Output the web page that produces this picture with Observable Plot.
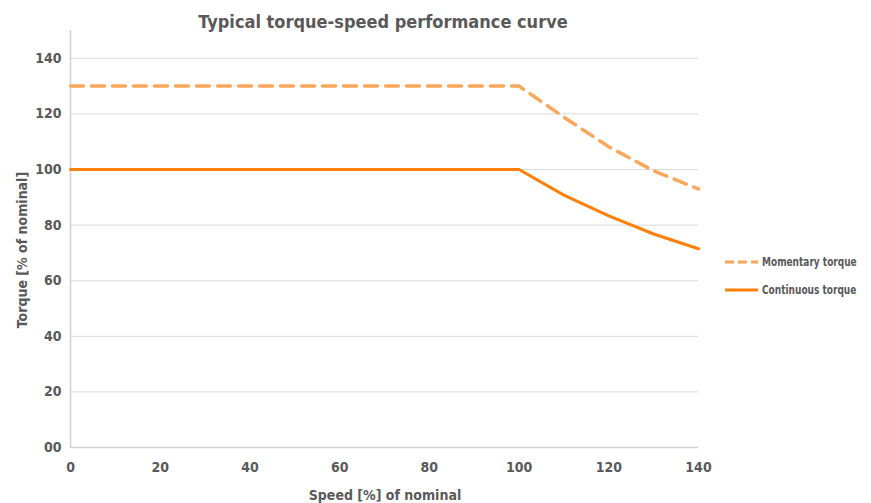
<!DOCTYPE html>
<html>
<head>
<meta charset="utf-8">
<script src="https://cdn.jsdelivr.net/npm/d3@7"></script>
<script src="https://cdn.jsdelivr.net/npm/@observablehq/plot@0.6"></script>
<style>
  html, body { margin: 0; padding: 0; background: #fff; }
  #wrap { position: relative; width: 871px; height: 503px; font-family: "DejaVu Sans Condensed", sans-serif; font-weight: bold; color: #595959; }
  #chart { position: absolute; left: 0; top: 0; }
  .abs { position: absolute; white-space: nowrap; }
  #title { left: 0; width: 766px; top: 12px; text-align: center; font-size: 18px; line-height: 20px; }
  #xlabel { left: 0; width: 770px; top: 487px; text-align: center; font-size: 14px; line-height: 16px; }
  #ylabel { left: 22px; top: 250px; font-size: 14px; line-height: 16px; transform: translate(-50%, -50%) rotate(-90deg); }
  .leg { font-size: 12.5px; line-height: 14px; }
  .leg svg { position: absolute; left: 0; top: 0; }
  .leg span { position: absolute; left: 37px; top: 0; display: inline-block; transform: scaleX(0.8); transform-origin: 0 50%; }
</style>
</head>
<body>
<div id="wrap">
  <div id="chart"></div>
  <div id="title" class="abs"></div>
  <div id="xlabel" class="abs"></div>
  <div id="ylabel" class="abs"></div>
  <div id="legend"></div>
</div>
<script>
const titleText = "Typical torque-speed performance curve";
const xLabel = "Speed [%] of nominal";
const yLabel = "Torque [% of nominal]";
const seriesNames = ["Momentary torque", "Continuous torque"];
const speed = [0, 10, 20, 30, 40, 50, 60, 70, 80, 90, 100, 110, 120, 130, 140];
const momentary = [130, 130, 130, 130, 130, 130, 130, 130, 130, 130, 130, 118.8, 108.2, 99.5, 93];
const continuous = [100, 100, 100, 100, 100, 100, 100, 100, 100, 100, 100, 90.8, 83.3, 76.8, 71.5];
const xTicks = [0, 20, 40, 60, 80, 100, 120, 140];
const yTicks = [0, 20, 40, 60, 80, 100, 120, 140];
const yTickLabels = ["00", "20", "40", "60", "80", "100", "120", "140"];
const colors = ["#FAA75B", "#FF8008"];
const dashes = ["13,8", null];

const momData = speed.map((s, i) => ({speed: s, torque: momentary[i]}));
const conData = speed.map((s, i) => ({speed: s, torque: continuous[i]}));

const plot = Plot.plot({
  width: 871,
  height: 503,
  marginLeft: 70,
  marginRight: 173,
  marginTop: 30,
  marginBottom: 56,
  style: {fontFamily: '"DejaVu Sans Condensed", sans-serif', fontSize: "14px", fontWeight: "bold", color: "#595959", background: "#fff"},
  x: {domain: [0, 140], label: null},
  y: {domain: [0, 150], label: null},
  marks: [
    Plot.ruleY(yTicks.filter(d => d > 0), {stroke: "#d9d9d9", strokeWidth: 1}),
    Plot.ruleY([0], {stroke: "#d0d0d0", strokeWidth: 1.5}),
    Plot.ruleX([0], {stroke: "#d0d0d0", strokeWidth: 1.5}),
    Plot.line(momData, {x: "speed", y: "torque", stroke: colors[0], strokeWidth: 3.5, strokeDasharray: dashes[0]}),
    Plot.line(conData, {x: "speed", y: "torque", stroke: colors[1], strokeWidth: 3}),
    Plot.axisX({ticks: xTicks, tickSize: 0, tickPadding: 15, label: null, tickFormat: d => String(d)}),
    Plot.axisY({ticks: yTicks, tickSize: 0, tickPadding: 9, label: null, tickFormat: d => yTickLabels[yTicks.indexOf(d)]})
  ]
});
document.getElementById("chart").appendChild(plot);
document.getElementById("title").textContent = titleText;
document.getElementById("xlabel").textContent = xLabel;
document.getElementById("ylabel").textContent = yLabel;

const legend = document.getElementById("legend");
const legTops = [255, 283];
seriesNames.forEach((name, i) => {
  const row = document.createElement("div");
  row.className = "abs leg";
  row.style.left = "725px";
  row.style.top = legTops[i] + "px";
  row.style.width = "140px";
  row.style.height = "14px";
  const ns = "http://www.w3.org/2000/svg";
  const sw = document.createElementNS(ns, "svg");
  sw.setAttribute("width", "34");
  sw.setAttribute("height", "14");
  const ln = document.createElementNS(ns, "line");
  ln.setAttribute("x1", "0"); ln.setAttribute("x2", "33");
  ln.setAttribute("y1", "7"); ln.setAttribute("y2", "7");
  ln.setAttribute("stroke", colors[i]);
  ln.setAttribute("stroke-width", "3");
  if (dashes[i]) ln.setAttribute("stroke-dasharray", "9,4");
  sw.appendChild(ln);
  row.appendChild(sw);
  const t = document.createElement("span");
  t.textContent = name;
  row.appendChild(t);
  legend.appendChild(row);
});
</script>
</body>
</html>
